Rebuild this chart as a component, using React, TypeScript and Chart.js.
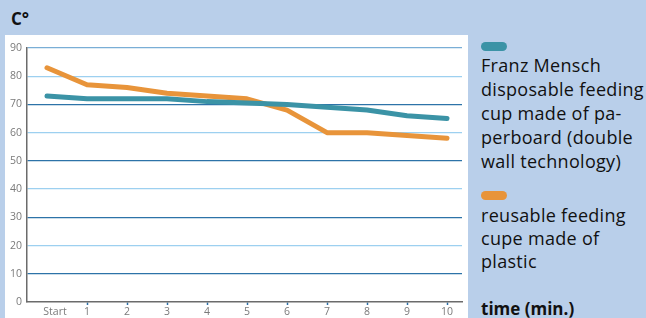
import React, { useEffect, useRef } from "react";
import { Chart, registerables } from "chart.js";

Chart.register(...registerables);

const timeLabels = ["Start", "1", "2", "3", "4", "5", "6", "7", "8", "9", "10"];
const paperCup = [73, 72, 72, 72, 71, 70.5, 70, 69, 68, 66, 65];
const plasticCup = [83, 77, 76, 74, 73, 72, 68, 60, 60, 59, 58];
const yTicks = [0, 10, 20, 30, 40, 50, 60, 70, 80, 90];

const BG = "#b9cfea";
const TEAL = "#3b93a6";
const ORANGE = "#e8943a";
const FONT = "'Open Sans', 'Noto Sans', sans-serif";
const START_LABEL_POS = 0.2;

export default function App() {
  const ref = useRef<HTMLCanvasElement>(null);

  useEffect(() => {
    if (!ref.current) return;
    const xs = timeLabels.map((_, i) => i);
    const tickPositions = xs.map((v) => (v === 0 ? START_LABEL_POS : v));
    const chart = new Chart(ref.current, {
      type: "line",
      data: {
        datasets: [
          {
            label: "paper",
            data: xs.map((x, i) => ({ x, y: paperCup[i] })),
            borderColor: TEAL,
            borderWidth: 5,
            pointRadius: 0,
            borderCapStyle: "round",
            borderJoinStyle: "round",
            tension: 0,
          },
          {
            label: "plastic",
            data: xs.map((x, i) => ({ x, y: plasticCup[i] })),
            borderColor: ORANGE,
            borderWidth: 5,
            pointRadius: 0,
            borderCapStyle: "round",
            borderJoinStyle: "round",
            tension: 0,
          },
        ],
      },
      options: {
        animation: false,
        responsive: false,
        maintainAspectRatio: false,
        layout: { padding: { top: 13, right: 6, left: 0, bottom: 0 } },
        plugins: { legend: { display: false }, tooltip: { enabled: false } },
        scales: {
          x: {
            type: "linear",
            min: -0.5,
            max: 10.375,
            afterBuildTicks: (scale: any) => {
              scale.ticks = tickPositions.map((v) => ({ value: v }));
            },
            afterFit: (scale: any) => {
              scale.height = 16;
            },
            border: { color: "#6b6b6b", width: 1.5 },
            grid: {
              drawOnChartArea: false,
              drawTicks: true,
              tickLength: 3,
              tickWidth: 1.5,
              tickColor: (ctx: any) =>
                ctx.tick && ctx.tick.value === START_LABEL_POS ? "rgba(0,0,0,0)" : "#2a6fa5",
            },
            ticks: {
              autoSkip: false,
              maxRotation: 0,
              padding: 1,
              color: "#7a7a7a",
              font: { family: FONT, size: 10.5 },
              callback: (v: any) => {
                const n = Number(v);
                if (n === START_LABEL_POS) return timeLabels[0];
                return timeLabels[n] ?? "";
              },
            },
          },
          y: {
            min: 0,
            max: 90,
            afterBuildTicks: (scale: any) => {
              scale.ticks = yTicks.map((v) => ({ value: v }));
            },
            afterFit: (scale: any) => {
              scale.width = 22;
            },
            border: { color: "#6b6b6b", width: 1.5 },
            grid: {
              drawTicks: false,
              lineWidth: 1.3,
              color: (ctx: any) => {
                const v = ctx.tick ? ctx.tick.value : 0;
                if (v === 0) return "rgba(0,0,0,0)";
                if (v === 90) return "#7aaed6";
                return v % 20 === 0 ? "#9dd0f0" : "#2d73a8";
              },
            },
            ticks: {
              padding: 5,
              color: "#7a7a7a",
              font: { family: FONT, size: 10.5 },
            },
          },
        },
      },
    });
    return () => chart.destroy();
  }, []);

  const legendText: React.CSSProperties = {
    position: "absolute",
    left: 481,
    width: 170,
    fontFamily: FONT,
    fontSize: 18,
    letterSpacing: 0.3,
    color: "#111",
    margin: 0,
    whiteSpace: "pre",
  };

  return (
    <div
      style={{
        position: "fixed",
        left: 0,
        top: 0,
        width: 646,
        height: 318,
        background: BG,
        overflow: "hidden",
      }}
    >
      <div
        style={{
          position: "absolute",
          left: 11,
          top: 8,
          fontFamily: FONT,
          fontWeight: 700,
          fontSize: 17,
          lineHeight: "22px",
          color: "#111",
        }}
      >
        C°
      </div>
      <div
        style={{
          position: "absolute",
          left: 5,
          top: 35,
          width: 463,
          height: 283,
          background: "#fff",
        }}
      >
        <canvas ref={ref} width={463} height={283} style={{ width: 463, height: 283, display: "block" }} />
      </div>
      <div
        style={{
          position: "absolute",
          left: 481,
          top: 42,
          width: 26,
          height: 9,
          borderRadius: 5,
          background: TEAL,
        }}
      />
      <div style={{ ...legendText, top: 53, lineHeight: "24px" }}>
        {"Franz Mensch\ndisposable feeding\ncup made of pa-\nperboard (double\nwall technology)"}
      </div>
      <div
        style={{
          position: "absolute",
          left: 481,
          top: 191,
          width: 26,
          height: 9,
          borderRadius: 5,
          background: ORANGE,
        }}
      />
      <div style={{ ...legendText, top: 204, lineHeight: "23px" }}>
        {"reusable feeding\ncupe made of\nplastic"}
      </div>
      <div
        style={{
          ...legendText,
          top: 298,
          fontSize: 17,
          lineHeight: "22px",
          letterSpacing: 0,
          fontWeight: 700,
        }}
      >
        time (min.)
      </div>
    </div>
  );
}
